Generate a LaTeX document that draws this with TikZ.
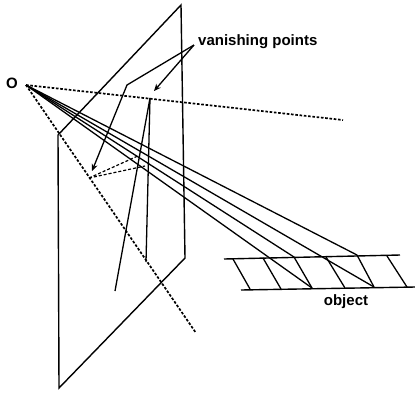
\documentclass[tikz,border=0pt]{standalone}
\usepackage{fontspec}
\setmainfont{Liberation Sans}
\usetikzlibrary{arrows.meta}
\begin{document}
\begin{tikzpicture}[
    x=1pt, y=-1pt,
    label/.style={font=\bfseries\fontsize{15}{17}\selectfont, inner sep=0pt},
    edge/.style={line width=1.4pt},
    ray/.style={line width=1.3pt},
    sight/.style={line width=1.7pt, dash pattern=on 2.6pt off 1.7pt},
    thin dash/.style={line width=1.2pt, dash pattern=on 3pt off 2pt},
    pointer/.style={-{Stealth[length=7pt, width=6pt]}, line width=1.3pt}
]
\useasboundingbox (0,0) rectangle (415,392);
% image plane
\coordinate (top) at (181,5);
\coordinate (right) at (185,258);
\coordinate (bottom) at (59,388);
\coordinate (left) at (58,135);
\draw[edge] (top) -- (right) -- (bottom) -- (left) -- cycle;

% eye point and sight lines
\coordinate (eye) at (26,85);
\node[label] (o) at (12,83) {O};
\coordinate (far) at (343,120);
\coordinate (low) at (196,333);
\draw[sight] (eye) -- (far);
\draw[sight] (eye) -- (low);

% object
\coordinate (a1) at (233,259);
\coordinate (a2) at (263,258);
\coordinate (a3) at (294,257);
\coordinate (a4) at (326,257);
\coordinate (a5) at (357,255);
\coordinate (a6) at (387,256);
\coordinate (b1) at (250,289);
\coordinate (b2) at (281,289);
\coordinate (b3) at (312,288);
\coordinate (b4) at (345,288);
\coordinate (b5) at (374,287);
\coordinate (b6) at (407,287);
\coordinate (t0) at (224,259);
\coordinate (t1) at (400,255);
\coordinate (u0) at (241,290);
\coordinate (u1) at (415,287);
\draw[edge] (t0) -- (t1);
\draw[edge] (u0) -- (u1);
\foreach \i in {1,...,6}
    \draw[ray] (a\i) -- (b\i);

% rays
\draw[ray] (eye) -- (a5);
\draw[ray] (eye) -- (a3);
\draw[ray] (eye) -- (b5);
\draw[ray] (eye) -- (b3);

% vanishing points
\coordinate (vpr) at (150,98);
\coordinate (vpl) at (89,178);
\coordinate (r1) at (115,291);
\coordinate (r2) at (146,262);
\coordinate (l1) at (140,155);
\coordinate (l2) at (145,166);
\draw[ray] (vpr) -- (r1);
\draw[ray] (vpr) -- (r2);
\draw[thin dash] (vpl) -- (l1);
\draw[thin dash] (vpl) -- (l2);

% labels
\node[label, anchor=west] (vp) at (198,42) {vanishing points};
\node[label] (obj) at (346,302) {object};
\coordinate (bend) at (127,85);
\coordinate (tip) at (194,45);
\draw[pointer] (tip) -- (bend) -- (92,171);
\draw[pointer] (tip) -- (154,91);
\end{tikzpicture}
\end{document}
